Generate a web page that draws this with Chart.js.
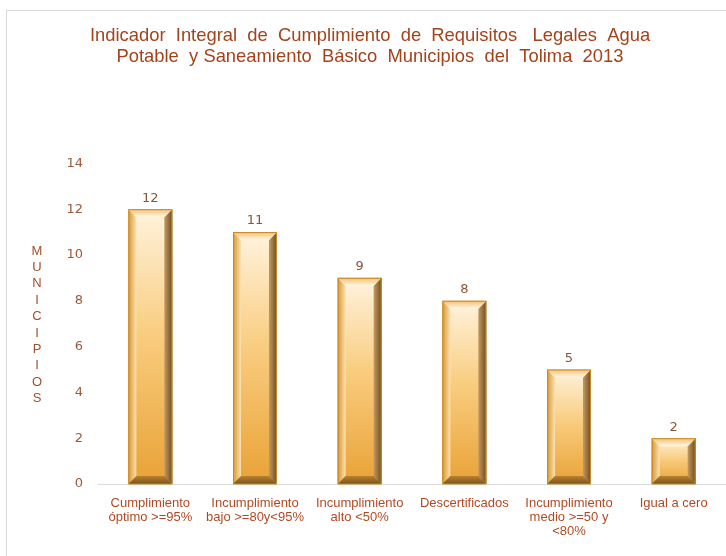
<!DOCTYPE html>
<html>
<head>
<meta charset="utf-8">
<script src="https://cdn.jsdelivr.net/npm/chart.js@4/dist/chart.umd.min.js"></script>
<style>
html,body{margin:0;padding:0;background:#fff;overflow:hidden;width:726px;height:556px;}
#frame{position:absolute;left:6px;top:10px;width:760px;height:600px;border:1px solid #d9d9d9;box-sizing:border-box;}
#wrap{position:absolute;left:0;top:0;width:740px;height:556px;}
</style>
</head>
<body>
<div id="frame"></div>
<div id="wrap"><canvas id="c" width="740" height="556"></canvas></div>
<script>
const titleLines = ["Indicador  Integral  de  Cumplimiento  de  Requisitos   Legales  Agua",
                    "Potable  y Saneamiento  Básico  Municipios  del  Tolima  2013"];
const categories = [
  ["Cumplimiento", "óptimo >=95%"],
  ["Incumplimiento", "bajo >=80y<95%"],
  ["Incumplimiento", "alto <50%"],
  "Descertificados",
  ["Incumplimiento", "medio >=50 y", "<80%"],
  "Igual a cero"
];
const municipios = [12, 11, 9, 8, 5, 2];
const yAxisTitle = "MUNICIPIOS";
const yTicks = [0, 2, 4, 6, 8, 10, 12, 14];

const bevelPlugin = {
  id: 'bevel',
  afterDatasetsDraw(chart) {
    const ctx = chart.ctx;
    const meta = chart.getDatasetMeta(0);
    meta.data.forEach((bar, i) => {
      const p = bar.getProps(['x', 'y', 'base', 'width'], true);
      const L = p.x - p.width / 2, R = p.x + p.width / 2, T = p.y, B = p.base;
      const h = B - T;
      const bv = Math.min(8, h / 4);
      ctx.save();
      // face
      let g = ctx.createLinearGradient(0, T, 0, B);
      g.addColorStop(0, '#fff3de');
      g.addColorStop(0.45, '#f9cd80');
      g.addColorStop(1, '#e9a236');
      ctx.fillStyle = g;
      ctx.fillRect(L, T, R - L, h);
      // left bevel
      g = ctx.createLinearGradient(L, 0, L + bv, 0);
      g.addColorStop(0, '#d9962e');
      g.addColorStop(1, '#fbe2b4');
      ctx.beginPath();
      ctx.moveTo(L, T); ctx.lineTo(L + bv, T + bv); ctx.lineTo(L + bv, B - bv); ctx.lineTo(L, B); ctx.closePath();
      ctx.fillStyle = g;
      ctx.fill();
      // right bevel
      g = ctx.createLinearGradient(R, 0, R - bv, 0);
      g.addColorStop(0, '#6e4c1e');
      g.addColorStop(1, '#c49a62');
      ctx.beginPath();
      ctx.moveTo(R, T); ctx.lineTo(R - bv, T + bv); ctx.lineTo(R - bv, B - bv); ctx.lineTo(R, B); ctx.closePath();
      ctx.fillStyle = g;
      ctx.fill();
      // top bevel
      g = ctx.createLinearGradient(0, T, 0, T + bv);
      g.addColorStop(0, '#f2c070');
      g.addColorStop(1, '#fff6e6');
      ctx.beginPath();
      ctx.moveTo(L, T); ctx.lineTo(R, T); ctx.lineTo(R - bv, T + bv); ctx.lineTo(L + bv, T + bv); ctx.closePath();
      ctx.fillStyle = g;
      ctx.fill();
      // bottom bevel
      g = ctx.createLinearGradient(0, B, 0, B - bv);
      g.addColorStop(0, '#7a541c');
      g.addColorStop(1, '#b88230');
      ctx.beginPath();
      ctx.moveTo(L, B); ctx.lineTo(L + bv, B - bv); ctx.lineTo(R - bv, B - bv); ctx.lineTo(R, B); ctx.closePath();
      ctx.fillStyle = g;
      ctx.fill();
      // outline
      ctx.strokeStyle = '#c98a2a';
      ctx.lineWidth = 1;
      ctx.strokeRect(L + 0.5, T + 0.5, R - L - 1, h - 0.5);
      // value label
      ctx.fillStyle = '#8a5538';
      ctx.font = '13px "DejaVu Sans"';
      ctx.textAlign = 'center';
      ctx.textBaseline = 'middle';
      ctx.fillText(String(municipios[i]), p.x, T - 11);
      ctx.restore();
    });
  },
  afterDraw(chart) {
    const ctx = chart.ctx;
    ctx.save();
    ctx.fillStyle = '#a0522d';
    ctx.font = '13px "Liberation Sans"';
    ctx.textAlign = 'center';
    ctx.textBaseline = 'middle';
    const letters = yAxisTitle.split('');
    letters.forEach((ch, k) => ctx.fillText(ch, 37, 251 + k * 16.4));
    ctx.restore();
  }
};

new Chart(document.getElementById('c'), {
  type: 'bar',
  data: {
    labels: categories,
    datasets: [{
      data: municipios,
      backgroundColor: '#e8a53c',
      borderWidth: 0,
      barPercentage: 0.42,
      categoryPercentage: 1.0
    }]
  },
  options: {
    responsive: false,
    animation: false,
    layout: { padding: { left: 14, right: 14, top: 0, bottom: 0 } },
    plugins: {
      legend: { display: false },
      tooltip: { enabled: false },
      title: {
        display: true,
        text: titleLines,
        color: '#a3431b',
        font: { family: '"Liberation Sans", Arial, sans-serif', size: 18.4, weight: 'normal', lineHeight: 1.15 },
        padding: { top: 25, bottom: 96 }
      }
    },
    scales: {
      x: {
        grid: { display: false },
        border: { display: true, color: '#d9d9d9', width: 1 },
        ticks: {
          color: '#b04a24',
          maxRotation: 0, autoSkip: false,
          padding: 5,
          font: { family: '"Liberation Sans", Arial, sans-serif', size: 13, lineHeight: 1.05 }
        },
        afterFit(s) { s.height = 72; }
      },
      y: {
        min: 0, max: 14,
        afterBuildTicks(s) { s.ticks = yTicks.map(v => ({ value: v })); },
        grid: { display: false },
        border: { display: false },
        ticks: {
          color: '#9a5a3c',
          padding: 7,
          font: { family: '"DejaVu Sans", Verdana, sans-serif', size: 13 }
        },
        afterFit(s) { s.width = 84; }
      }
    }
  },
  plugins: [bevelPlugin]
});
</script>
</body>
</html>
